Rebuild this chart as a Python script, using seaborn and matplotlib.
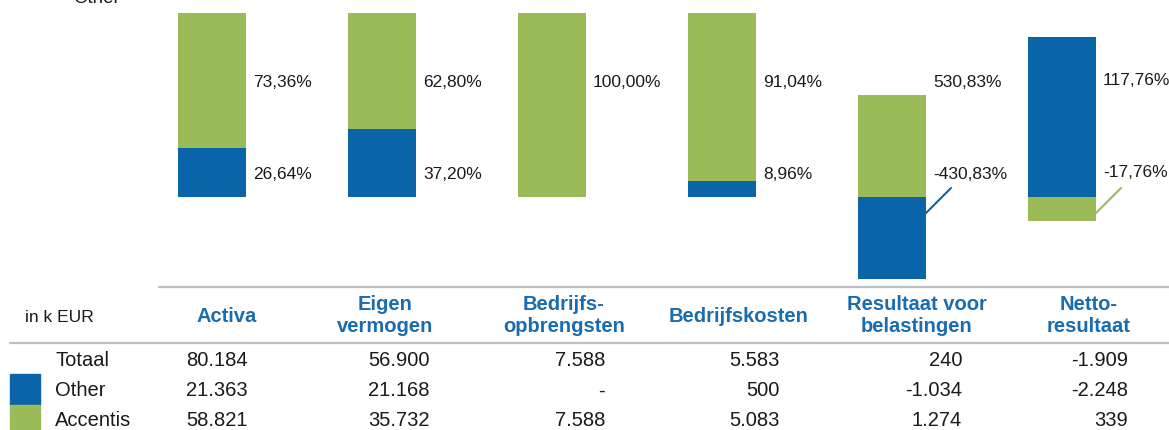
import numpy as np
import pandas as pd
import seaborn as sns
import matplotlib.pyplot as plt
from matplotlib.lines import Line2D
from matplotlib.patches import Rectangle

# ---------------------------------------
# Data (in k EUR)
# ---------------------------------------
categories = ["Activa", "Eigen\nvermogen", "Bedrijfs-\nopbrengsten", "Bedrijfskosten",
              "Resultaat voor\nbelastingen", "Netto-\nresultaat"]
totaal = [80184, 56900, 7588, 5583, 240, -1909]
other = [21363, 21168, 0, 500, -1034, -2248]
accentis = [58821, 35732, 7588, 5083, 1274, 339]
row_labels = ["Totaal", "Other", "Accentis"]

BLUE = "#0A64A8"
GREEN = "#9BBB59"
HEAD = "#1A6CB0"
GRAY = "#BEBEBE"
TXT = "#1A1A1A"

W, H = 1169, 430

# share of the total per company, then scaled so every bar has the same overall length
df = pd.DataFrame({"cat": categories, "totaal": totaal, "other": other, "accentis": accentis})
df["share_other"] = df["other"] / df["totaal"]
df["share_acc"] = df["accentis"] / df["totaal"]
norm = df["share_other"].abs() + df["share_acc"].abs()
df["h_other"] = df["share_other"] / norm
df["h_acc"] = df["share_acc"] / norm
# green sits on top of blue when both are positive, otherwise both start at zero
df["end_acc"] = np.where((df["h_other"] > 0) & (df["h_acc"] > 0),
                         df["h_other"] + df["h_acc"], df["h_acc"])

sns.set_theme(style="white")
plt.rcParams["font.family"] = ["Liberation Sans Narrow", "Liberation Sans", "DejaVu Sans"]


def fx(px):
    return px / W


def fy(py):
    return 1 - py / H


def pct(v):
    return f"{v * 100:.2f}%".replace(".", ",")


def num(v):
    return "-" if v == 0 else f"{v:,}".replace(",", ".")


fig = plt.figure(figsize=(W / 100, H / 100), dpi=100)

# ---------------------------------------
# Bars
# ---------------------------------------
ax = fig.add_axes([0, fy(287), 1, 287 / H])
sns.barplot(data=df, x="cat", y="end_acc", color=GREEN, width=0.4, saturation=1,
            linewidth=0, ax=ax)
sns.barplot(data=df, x="cat", y="h_other", color=BLUE, width=0.4, saturation=1,
            linewidth=0, ax=ax)
ax.set_xlim(-212 / 170, (W - 212) / 170)
ax.set_ylim(-(287 - 197) / 184, 197 / 184)
ax.axis("off")

for i, r in df.iterrows():
    xl = i + 0.2 + 7 / 170
    items = [(r.share_other, BLUE), (r.share_acc, GREEN)]
    items = [it for it in items if it[0] != 0]
    items.sort(key=lambda it: -it[0])
    lift = 0.015 if i == len(df) - 1 else 0
    for (s, c), y in zip(items, [0.62, 0.12]):
        ax.text(xl, y + lift, pct(s), ha="left", va="center", fontsize=12.5, color=TXT)
        if s < 0:
            ax.plot([i + 0.2, i + 0.2 + 25 / 170], [-0.087, 0.049], color=c, lw=1.5)

# cut-off legend remnant at the very top
fig.text(fx(73), fy(3), "Other", va="baseline", fontsize=13.5, color=TXT)

# ---------------------------------------
# Table below the bars
# ---------------------------------------
fig.add_artist(Line2D([fx(159), 1], [fy(287)] * 2, color=GRAY, lw=1.6))
fig.add_artist(Line2D([fx(10), 1], [fy(343)] * 2, color=GRAY, lw=1.6))
fig.text(fx(25), fy(317), "in k EUR", va="center", fontsize=12.5, color=TXT)

head_x = [227, 385, 564, 739, 917, 1089]
value_x = [248, 430, 605, 780, 962, 1128]
for hx, cat in zip(head_x, categories):
    fig.text(fx(hx), fy(316), cat, ha="center", va="center", fontsize=14.5,
             fontweight="bold", color=HEAD, linespacing=1.2)

row_y = [360, 391, 420]
for ry, lab, vals in zip(row_y, row_labels, [totaal, other, accentis]):
    fig.text(fx(55), fy(ry), lab, va="center", fontsize=14.5, color=TXT)
    for vx, v in zip(value_x, vals):
        fig.text(fx(vx), fy(ry), num(v), ha="right", va="center", fontsize=14.5, color=TXT)

fig.add_artist(Rectangle((fx(10), fy(405)), 30 / W, 31 / H, color=BLUE, transform=fig.transFigure))
fig.add_artist(Rectangle((fx(10), fy(432)), 30 / W, 27 / H, color=GREEN, transform=fig.transFigure))

fig.savefig("out.png", dpi=100)
